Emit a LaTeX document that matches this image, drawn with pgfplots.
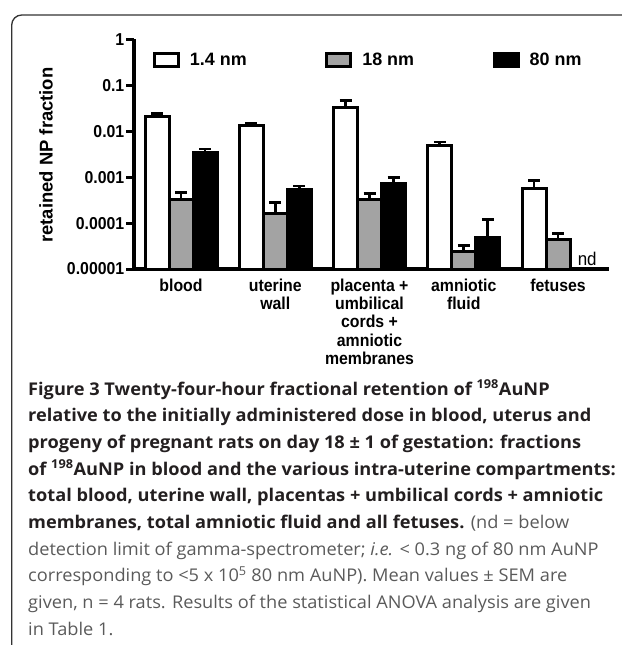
\documentclass[border=0pt]{standalone}
\usepackage{fontspec}
\usepackage{graphicx}
\usepackage{pgfplots}
\pgfplotsset{compat=1.18}
\setmainfont{Liberation Sans}
\newfontfamily\chartfont[FakeStretch=0.92]{Liberation Sans}
\newfontfamily\legfont{Liberation Sans}
\newfontfamily\capfont[FakeStretch=1.038]{Open Sans}
\definecolor{capbold}{HTML}{231F20}
\definecolor{capreg}{HTML}{5A5A5A}
\definecolor{bargray}{HTML}{A3A3A3}
\definecolor{framec}{HTML}{333333}
\pgfplotsset{
  errstyle/.style={error bars/.cd, y dir=plus, y explicit,
    error bar style={line width=2.8bp, black},
    error mark options={rotate=90, line width=2.8bp, mark size=6bp, black}},
}
\begin{document}
\begin{tikzpicture}[x=1bp,y=1bp]
\useasboundingbox (0,0) rectangle (622,-645);
\draw[line width=1.3bp, framec, rounded corners=10bp] (700,-15) -- (11.7,-15) -- (11.7,-700);
\begin{axis}[
  scale only axis, width=475bp, height=229.7bp,
  at={(134bp,-269bp)}, anchor=south west,
  ymode=log, log origin y=infty, ymin=1e-5, ymax=1,
  xmin=-0.4987, xmax=4.541,
  axis x line*=bottom, axis y line*=left,
  axis line style={-, line width=3.5bp, black},
  ytick={1,0.1,0.01,0.001,0.0001,0.00001},
  yticklabels={1,0.1,0.01,0.001,0.0001,0.00001},
  minor ytick={}, yminorticks=false,
  tick align=outside, major tick length=8bp,
  ytick style={line width=3bp, black},
  xtick={0,1,2,3,4},
  xtick style={draw=none},
  xticklabels={blood,{uterine\\wall},{placenta +\\umbilical\\cords +\\amniotic\\membranes},{amniotic\\fluid},fetuses},
  xticklabel style={align=center, anchor=north, inner sep=0pt, yshift=-1.5bp, font={\chartfont\bfseries\fontsize{17.3}{18.4}\selectfont}},
  yticklabel style={inner sep=1.5bp, font={\chartfont\bfseries\fontsize{17.3}{18.3}\selectfont}},
  ylabel={retained NP fraction},
  ylabel style={at={(axis description cs:-0.185,0.496)}, anchor=center, font={\legfont\bfseries\fontsize{18.5}{20}\selectfont}},
  legend columns=3,
  legend style={at={(axis description cs:0.04,0.91)}, anchor=west, draw=none, fill=none, inner sep=0pt, outer sep=0pt,
    font={\legfont\bfseries\fontsize{18}{20}\selectfont},
    nodes={inner sep=0pt},
    /tikz/every odd column/.append style={column sep=10bp},
    /tikz/every even column/.append style={column sep=78.5bp}},
  legend image code/.code={\draw[#1, line width=3bp] (0bp,-6.5bp) rectangle (24bp,6.5bp);},
  clip=false,
]
\addplot[ybar, bar width=24bp, bar shift=0bp, fill=white, draw=black, line width=3bp, errstyle]
  table[x=x, y=y, y error plus=e] {
x y e
-0.2546 0.0214 0.0026
0.7454 0.0130 0.0021
1.7454 0.0327 0.0140
2.7454 0.0050 0.0008
3.7454 0.00057 0.00028
};
\addlegendentry{1.4 nm}
\addplot[ybar, bar width=24bp, bar shift=0bp, fill=bargray, draw=black, line width=3bp, errstyle]
  table[x=x, y=y, y error plus=e] {
x y e
0 0.00033 0.00013
1 0.000162 0.000118
2 0.00033 0.00011
3 0.000024 0.000009
4 0.000043 0.000017
};
\addlegendentry{18 nm}
\addplot[ybar, bar width=24bp, bar shift=0bp, fill=black, draw=black, line width=3bp, errstyle]
  table[x=x, y=y, y error plus=e] {
x y e
0.2546 0.0034 0.0007
1.2546 0.00053 0.00011
2.2546 0.00073 0.00027
3.2546 0.000048 0.000074
};
\addlegendentry{80 nm}
\node[anchor=base, inner sep=0pt, font={\chartfont\fontsize{18.5}{20}\selectfont}] at (axis cs:4.31,1e-5) [yshift=4bp] {nd};
\end{axis}
\begin{scope}[every node/.style={anchor=base west, inner sep=0pt, font={\capfont\fontsize{17.6}{20}\selectfont}}]
\node[capbold] at (28,-395) {\bfseries Figure 3 Twenty-four-hour fractional retention of \textsuperscript{198}AuNP};
\node[capbold] at (28,-421.7) {\bfseries relative to the initially administered dose in blood, uterus and};
\node[capbold] at (28,-448.4) {\bfseries progeny of pregnant rats on day 18 ± 1 of gestation: fractions};
\node[capbold] at (28,-475.1) {\bfseries of \textsuperscript{198}AuNP in blood and the various intra-uterine compartments:};
\node[capbold] at (28,-501.8) {\bfseries total blood, uterine wall, placentas + umbilical cords + amniotic};
\node at (28,-528.5) {{\bfseries\color{capbold}membranes, total amniotic fluid and all fetuses.} {\color{capreg}(nd = below}};
\node[capreg] at (28,-555.2) {detection limit of gamma-spectrometer; \textit{i.e.} < 0.3 ng of 80 nm AuNP};
\node[capreg] at (28,-581.9) {corresponding to <5 x 10\textsuperscript{5} 80 nm AuNP). Mean values ± SEM are};
\node[capreg] at (28,-608.6) {given, n = 4 rats. Results of the statistical ANOVA analysis are given};
\node[capreg] at (28,-635.3) {in Table 1.};
\end{scope}
\end{tikzpicture}
\end{document}
